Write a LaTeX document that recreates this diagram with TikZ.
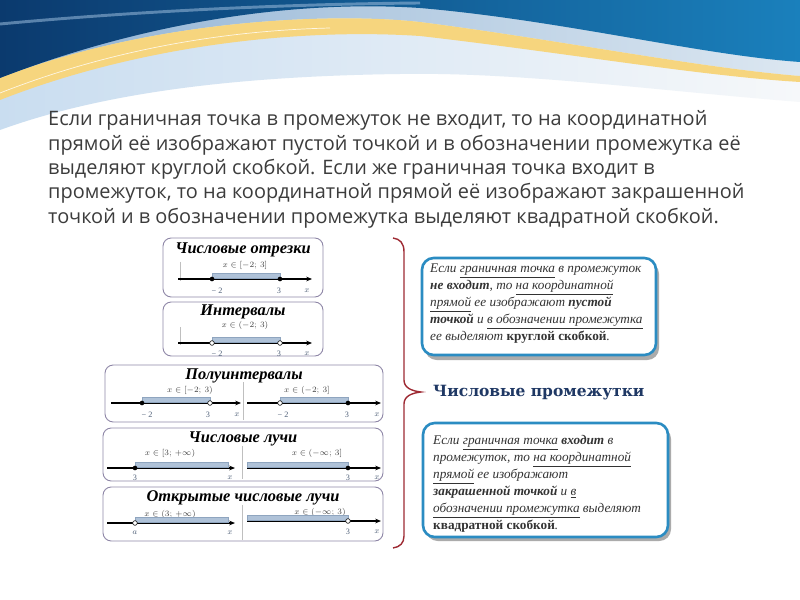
\documentclass[tikz,border=0pt]{standalone}
\usepackage{fontspec}
\setmainfont{Liberation Serif}
\newfontfamily\introfont{Open Sans}
\newfontfamily\headfont{DejaVu Serif}
\usetikzlibrary{arrows.meta}

\definecolor{navyA}{HTML}{0B3A6E}
\definecolor{navyB}{HTML}{1A80BC}
\definecolor{steelA}{HTML}{8FB2D4}
\definecolor{steelB}{HTML}{DCE7F1}
\definecolor{waveYellow}{HTML}{F6D57E}
\definecolor{waveLight}{HTML}{C9DDF0}
\definecolor{waveWhite}{HTML}{F6F8FA}
\definecolor{introgrey}{HTML}{3C3C3C}
\definecolor{boxline}{HTML}{9088A8}
\definecolor{bandfill}{HTML}{AFC2D8}
\definecolor{bandline}{HTML}{8FA5BF}
\definecolor{tickgrey}{HTML}{4F6078}
\definecolor{bracered}{HTML}{9E2A33}
\definecolor{headnavy}{HTML}{1F3864}
\definecolor{ruleblue}{HTML}{2B8CC2}
\definecolor{ruletext}{HTML}{333333}

\tikzset{
  introline/.style={anchor=base west, inner sep=0, text=introgrey,
    font=\introfont\fontsize{17}{20}\selectfont},
  topicbox/.style={draw=boxline, line width=0.8pt, rounded corners=7pt, fill=white},
  topictitle/.style={font=\bfseries\itshape\fontsize{14}{14}\selectfont, inner sep=0},
  setlabel/.style={font=\fontsize{7.5}{8}\selectfont, text=black!75, inner sep=0},
  numaxis/.style={-{Stealth[length=5pt,width=4pt]}, line width=0.9pt},
  band/.style={fill=bandfill, draw=bandline, line width=0.3pt},
  closeddot/.style={circle, fill=black, inner sep=0, minimum size=4pt},
  opendot/.style={circle, draw=black, fill=white, line width=0.5pt, inner sep=0, minimum size=4pt},
  ticklabel/.style={font=\fontsize{7}{7}\selectfont, text=tickgrey, inner sep=0},
  divider/.style={draw=black!25, line width=0.5pt},
  rulebox/.style={draw=ruleblue, line width=2.2pt, rounded corners=10pt, fill=white},
  ruleshadow/.style={fill=black!60, rounded corners=10pt, opacity=0.55},
  ruletext/.style={font=\itshape\fontsize{11.3}{14.5}\selectfont, text=ruletext,
    align=left, anchor=north west, inner sep=0},
}
\newcommand{\undl}[1]{\underline{#1}}

\begin{document}
\begin{tikzpicture}[x=0.3mm, y=-0.3mm]
  \fill[white] (0,0) rectangle (800,600);
  \useasboundingbox (0,0) rectangle (800,600);

  % waves on top
  \shade[left color=waveLight, right color=waveWhite] (0,0) -- (800,0) -- (800,102)
    .. controls (650,90) and (520,72) .. (400,74) .. controls (250,76) and (110,90) .. (0,130) -- cycle;
  \shade[left color=steelA, right color=steelB] (0,0) -- (800,0) -- (800,76)
    .. controls (700,68) and (560,40) .. (420,22) .. controls (330,12) and (150,20) .. (0,78) -- cycle;
  \fill[waveYellow] (0,78) .. controls (150,20) and (330,12) .. (420,22)
    .. controls (560,40) and (700,68) .. (800,76) -- (800,82)
    .. controls (700,76) and (560,52) .. (420,36) .. controls (300,28) and (140,45) .. (0,100) -- cycle;
  \draw[white, line width=0.6pt, opacity=0.8] (0,93) .. controls (130,42) and (250,30) .. (330,28);
  \shade[left color=navyA, right color=navyB] (0,0) -- (800,0) -- (800,62)
    .. controls (700,55) and (560,20) .. (420,8) .. controls (300,0) and (150,20) .. (0,78) -- cycle;
  \draw[steelA, line width=2.5pt, opacity=0.6] (0,24) .. controls (150,10) and (300,4) .. (420,3);

  % intro text
  \foreach \txt [count=\i] in {
      {Если граничная точка в промежуток не входит, то на координатной},
      {прямой её изображают пустой точкой и в обозначении промежутка её},
      {выделяют круглой скобкой. Если же граничная точка входит в},
      {промежуток, то на координатной прямой её изображают закрашенной},
      {точкой и в обозначении промежутка выделяют квадратной скобкой.}}
    \node[introline] (intro\i) at (48,{126+24.3*(\i-1)}) {\txt};

  % segments
  \draw[topicbox] (163,238) rectangle (323,297);
  \node[topictitle] (segTitle) at (243,250) {Числовые отрезки};
  \node[setlabel] (segSet) at (245,265) {$x\in[-2;\,3]$};
  \draw[divider] (180,262) -- (180,281);
  \draw[numaxis] (178,279) -- (312,279);
  \draw[band] (212,273) rectangle (280,278);
  \node[closeddot] (segA) at (212,279) {};
  \node[closeddot] (segB) at (280,279) {};
  \node[ticklabel] (segAl) at (217,291) {− 2};
  \node[ticklabel] (segBl) at (279,291) {3};
  \node[ticklabel] (segX) at (307,291) {$x$};

  % intervals
  \draw[topicbox] (163,302) rectangle (323,356);
  \node[topictitle] (intTitle) at (243,312) {Интервалы};
  \node[setlabel] (intSet) at (245,325) {$x\in(-2;\,3)$};
  \draw[divider] (180,327) -- (180,345);
  \draw[numaxis] (178,343) -- (312,343);
  \draw[band] (212,337) rectangle (280,342);
  \node[opendot] (intA) at (212,343) {};
  \node[opendot] (intB) at (280,343) {};
  \node[ticklabel] (intAl) at (217,354) {− 2};
  \node[ticklabel] (intBl) at (279,354) {3};
  \node[ticklabel] (intX) at (307,354) {$x$};

  % half-intervals
  \draw[topicbox] (105,365) rectangle (383,422);
  \node[topictitle] (halfTitle) at (244,376) {Полуинтервалы};
  \draw[divider] (243,382) -- (243,420);
  \node[setlabel] (halfSetL) at (190,390) {$x\in[-2;\,3)$};
  \draw[numaxis] (111,403) -- (241,403);
  \draw[band] (142,397) rectangle (210,402);
  \node[closeddot] (halfLA) at (142,403) {};
  \node[opendot] (halfLB) at (210,403) {};
  \node[ticklabel] (halfLAl) at (147,415) {− 2};
  \node[ticklabel] (halfLBl) at (208,415) {3};
  \node[ticklabel] (halfLX) at (237,415) {$x$};
  \node[setlabel] (halfSetR) at (307,390) {$x\in(-2;\,3]$};
  \draw[numaxis] (247,403) -- (381,403);
  \draw[band] (280,397) rectangle (348,402);
  \node[opendot] (halfRA) at (280,403) {};
  \node[closeddot] (halfRB) at (348,403) {};
  \node[ticklabel] (halfRAl) at (283,415) {− 2};
  \node[ticklabel] (halfRBl) at (347,415) {3};
  \node[ticklabel] (halfRX) at (377,415) {$x$};

  % rays
  \draw[topicbox] (103,428) rectangle (383,481);
  \node[topictitle] (rayTitle) at (243,439) {Числовые лучи};
  \draw[divider] (242,446) -- (242,479);
  \node[setlabel] (raySetL) at (170,453) {$x\in[3;\,+\infty)$};
  \draw[numaxis] (107,468) -- (235,468);
  \draw[band] (135,462) rectangle (228,467);
  \node[closeddot] (rayLA) at (135,468) {};
  \node[ticklabel] (rayLAl) at (135,478) {3};
  \node[ticklabel] (rayLX) at (230,478) {$x$};
  \node[setlabel] (raySetR) at (317,453) {$x\in(-\infty;\,3]$};
  \draw[numaxis] (247,468) -- (381,468);
  \draw[band] (247,462) rectangle (348,467);
  \node[closeddot] (rayRA) at (348,468) {};
  \node[ticklabel] (rayRAl) at (348,478) {3};
  \node[ticklabel] (rayRX) at (377,478) {$x$};

  % open rays
  \draw[topicbox] (103,487) rectangle (383,541);
  \node[topictitle] (openTitle) at (243,498) {Открытые числовые лучи};
  \draw[divider] (242,505) -- (242,540);
  \node[setlabel] (openSetL) at (170,514) {$x\in(3;\,+\infty)$};
  \draw[numaxis] (107,523) -- (235,523);
  \draw[band] (135,517) rectangle (228,522);
  \node[opendot] (openLA) at (135,523) {};
  \node[ticklabel] (openLAl) at (135,533) {$a$};
  \node[ticklabel] (openLX) at (230,533) {$x$};
  \node[setlabel] (openSetR) at (320,512) {$x\in(-\infty;\,3)$};
  \draw[numaxis] (247,521) -- (381,521);
  \draw[band] (247,515) rectangle (348,520);
  \node[opendot] (openRA) at (348,521) {};
  \node[ticklabel] (openRAl) at (348,532) {3};
  \node[ticklabel] (openRX) at (377,532) {$x$};

  % brace
  \draw[bracered, line width=1.2pt] (393,238) .. controls (400,239) and (404,243) .. (404,252)
    -- (404,380) .. controls (404,388) and (412,391) .. (421,392)
    .. controls (412,393) and (404,396) .. (404,404)
    -- (404,536) .. controls (404,543) and (400,547) .. (393,548);
  \node[anchor=west, inner sep=0, text=headnavy, font=\headfont\bfseries\fontsize{13.2}{14}\selectfont]
    (headline) at (433,393) {Числовые промежутки};

  % rule boxes
  \fill[ruleshadow] (425,262) rectangle (659,360);
  \draw[rulebox] (422,258) rectangle (656,355);
  \node[ruletext] (ruleOpen) at (430,264) {Если \undl{граничная точка} в промежуток\\
    \textbf{не входит}, то \undl{на координатной}\\
    \undl{прямой} ее изображают \textbf{пустой}\\
    \textbf{точкой} и \undl{в обозначении промежутка}\\
    ее выделяют \textbf{\upshape круглой скобкой}.};

  \fill[ruleshadow] (426,427) rectangle (671,541);
  \draw[rulebox] (423,423) rectangle (668,537);
  \node[ruletext] (ruleClosed) at (433,435) {Если \undl{граничная точка} \textbf{входит} в\\
    промежуток, то \undl{на координатной}\\
    \undl{прямой} ее изображают\\
    \textbf{закрашенной точкой} и \undl{в}\\
    \undl{обозначении промежутка} выделяют\\
    \textbf{\upshape квадратной скобкой}.};
\end{tikzpicture}
\end{document}
